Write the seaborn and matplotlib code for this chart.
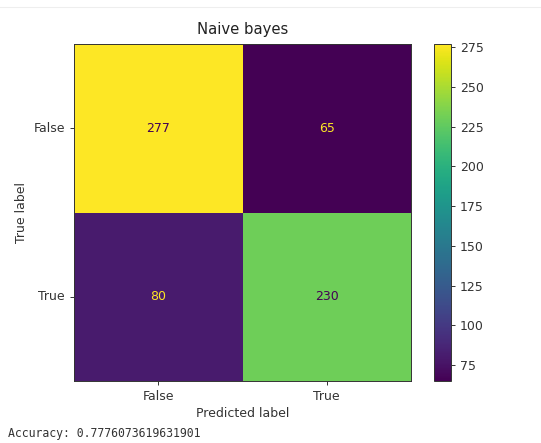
import matplotlib
matplotlib.use("Agg")
import matplotlib.pyplot as plt
import numpy as np
import seaborn as sns
from matplotlib.lines import Line2D

# Confusion matrix values (rows = true label, cols = predicted label)
labels = ["False", "True"]
row_false = [277, 65]
row_true = [80, 230]
cbar_ticks = [75, 100, 125, 150, 175, 200, 225, 250, 275]
title = "Naive bayes"
accuracy_text = "Accuracy: 0.7776073619631901"

cm = np.array([row_false, row_true])
viridis = plt.get_cmap("viridis")

fig = plt.figure(figsize=(5.41, 4.43), dpi=100)
ax = fig.add_axes([74 / 541, 62 / 443, 337 / 541, 337 / 443])
cax = fig.add_axes([434 / 541, 62 / 443, 17 / 541, 337 / 443])

sns.heatmap(cm, ax=ax, cbar_ax=cax, cmap="viridis", annot=True, fmt="d",
            xticklabels=labels, yticklabels=labels, square=False,
            annot_kws={"fontsize": 9}, cbar_kws={"ticks": cbar_ticks})

# sklearn style text colours: dark on bright cells, bright on dark cells
thresh = (cm.max() + cm.min()) / 2.0
for t, v in zip(ax.texts, cm.flatten()):
    t.set_color(viridis(0.0) if v >= thresh else viridis(1.0))

for s in ax.spines.values():
    s.set_visible(True)
    s.set_linewidth(0.7)
    s.set_color("#333333")
ax.tick_params(axis="both", length=3, width=0.7, labelsize=9, colors="#333333")
ax.set_yticklabels(labels, rotation=0)
ax.set_xticklabels(labels, rotation=0)
ax.set_title(title, fontsize=10.7, color="#222222", pad=7)
ax.set_xlabel("Predicted label", fontsize=9, color="#333333", labelpad=3)
ax.set_ylabel("True label", fontsize=9, color="#333333")

cbar = ax.collections[0].colorbar
cbar.outline.set_visible(True)
cbar.outline.set_linewidth(0.7)
cbar.outline.set_edgecolor("#333333")
cax.tick_params(length=3, width=0.7, labelsize=9, colors="#333333")

# notebook output text and top separator
fig.text(8 / 541, 1 - 434 / 443, accuracy_text, family="DejaVu Sans Mono",
         fontsize=8.3, color="#333333", va="center", ha="left")
fig.add_artist(Line2D([0, 1], [1 - 7 / 443, 1 - 7 / 443], transform=fig.transFigure,
                      color="#eeeeee", linewidth=0.8))

fig.savefig("out.png", dpi=100)
